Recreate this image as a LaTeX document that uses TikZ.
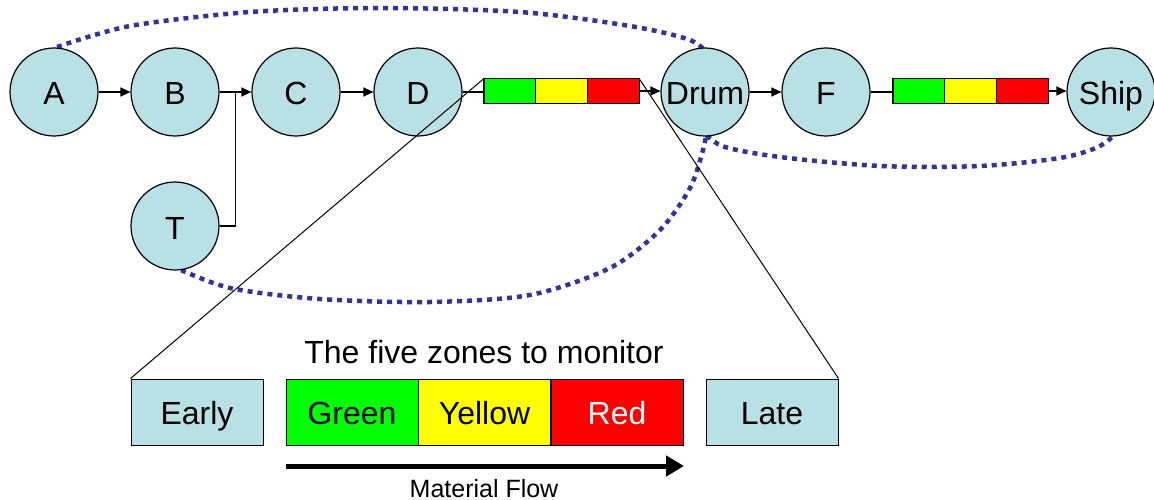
\documentclass[tikz,border=0pt]{standalone}
\usepackage{fontspec}
\setmainfont{Liberation Sans}
\usetikzlibrary{arrows.meta,calc}
\pgfdeclarelayer{bg}
\pgfsetlayers{bg,main}
\definecolor{nodefill}{RGB}{185,224,228}
\definecolor{loopblue}{RGB}{51,51,153}
\definecolor{zgreen}{RGB}{0,255,0}
\definecolor{zyellow}{RGB}{255,255,0}
\definecolor{zred}{RGB}{255,0,0}
\begin{document}
\begin{tikzpicture}[x=1pt,y=-1pt,
  station/.style={circle,draw=black,line width=1.2pt,fill=nodefill,minimum size=88pt,inner sep=0pt,text height=30pt,text depth=4pt,font=\fontsize{32}{36}\selectfont},
  seg/.style={draw=black,line width=1.2pt,minimum width=51.7pt,minimum height=25pt,inner sep=0pt,outer sep=0pt},
  zone/.style={draw=black,line width=1pt,minimum width=132pt,minimum height=66pt,inner sep=0pt,text height=29pt,text depth=5pt,font=\fontsize{32}{36}\selectfont},
  arrowline/.style={line width=1.4pt,-{Triangle[length=10pt,width=9pt]}},
  plainline/.style={line width=1.4pt},
  diagline/.style={line width=1pt},
  loopline/.style={draw=loopblue,line width=4.5pt,dash pattern=on 5pt off 5pt}]
\useasboundingbox (0,0) rectangle (1154,500);
% stations
\node[station] (A) at (54,92) {A};
\node[station] (B) at (175,92) {B};
\node[station] (C) at (296,92) {C};
\node[station] (D) at (418,92) {D};
\node[station] (Drum) at (705,92) {Drum};
\node[station] (F) at (826,92) {F};
\node[station] (Ship) at (1111,92) {Ship};
\node[station] (T) at (175,226) {T};
% buffers
\node[seg,fill=zgreen] (g1) at (509.85,91) {};
\node[seg,fill=zyellow] (y1) at (561.55,91) {};
\node[seg,fill=zred] (r1) at (613.25,91) {};
\node[seg,fill=zgreen] (g2) at (918.85,91) {};
\node[seg,fill=zyellow] (y2) at (970.55,91) {};
\node[seg,fill=zred] (r2) at (1022.25,91) {};
% connectors
\coordinate (J) at ($(B.east)!0.5!(C.west)$);
\draw[arrowline] (A) -- (B);
\draw[arrowline] (B) -- (C);
\draw[plainline] (T.east) -| (J);
\draw[arrowline] (C) -- (D);
\draw[plainline] (D.east) -- (D.east -| g1.west);
\draw[arrowline] (r1.east) -- (r1.east -| Drum.west);
\draw[arrowline] (Drum) -- (F);
\draw[plainline] (F.east) -- (F.east -| g2.west);
\draw[arrowline] (r2.east) -- (r2.east -| Ship.west);
% zones
\node[zone,fill=nodefill] (Early) at (197,412) {Early};
\node[zone,fill=zgreen] (Green) at (352,412) {Green};
\node[zone,fill=zyellow] (Yellow) at (484.5,412) {Yellow};
\node[zone,fill=zred,text=white] (Red) at (617,412) {Red};
\node[zone,fill=nodefill] (Late) at (772,412) {Late};
\node[font=\fontsize{32}{36}\selectfont] (title) at (484,352) {The five zones to monitor};
\coordinate (fs) at (286,466);
\coordinate (fe) at (684,466);
\draw[line width=5pt,-{Triangle[length=18pt,width=20pt]}] (fs) -- (fe);
\node[font=\fontsize{25}{30}\selectfont,text height=18pt,text depth=0pt,inner sep=0pt] (mf) at (484,488) {Material Flow};
\draw[diagline] (Early.north west) -- (g1.north west);
\draw[diagline] (Late.north east) -- (r1.north east);
% loops
\begin{pgfonlayer}{bg}
\draw[loopline] plot[smooth] coordinates {(57,47) (130,26) (250,12) (380,8) (520,12) (630,26) (690,40) (710,56)};
\draw[loopline] plot[smooth] coordinates {(700,128) (722,146) (780,157) (880,166) (980,166) (1060,158) (1098,147) (1118,132)};
\draw[loopline] plot[smooth] coordinates {(172,266) (230,288) (320,299) (430,302) (530,295) (610,268) (660,230) (690,188) (703,150) (708,125)};
\end{pgfonlayer}
\end{tikzpicture}
\end{document}
